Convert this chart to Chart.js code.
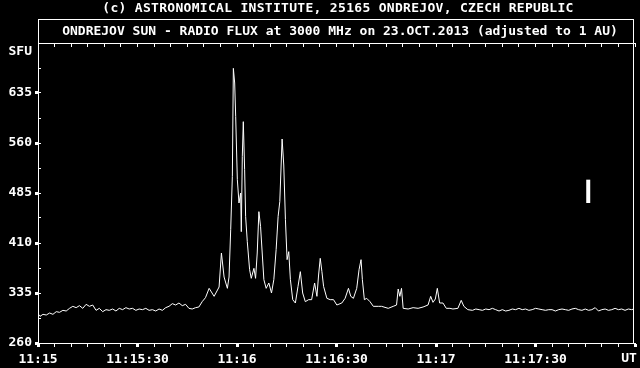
<!DOCTYPE html>
<html>
<head>
<meta charset="utf-8">
<script src="https://cdn.jsdelivr.net/npm/chart.js@4/dist/chart.umd.min.js"></script>
<style>
	html, body { margin: 0; padding: 0; background: #000; }
	canvas { display: block; }
</style>
</head>
<body>
<canvas id="flux" width="640" height="368"></canvas>
<script>
// ---------------- data ----------------
var titleText = '(c) ASTRONOMICAL INSTITUTE, 25165 ONDREJOV, CZECH REPUBLIC';
var subtitleText = 'ONDREJOV SUN - RADIO FLUX at 3000 MHz on 23.OCT.2013 (adjusted to 1 AU)';
var unitLabel = 'SFU';
var timeUnit = 'UT';

// x tick labels every 30 s, starting 11:15:00
var timeLabels = ['11:15', '11:15:30', '11:16', '11:16:30', '11:17', '11:17:30'];
var fluxMin = 260, fluxMax = 710, fluxStep = 37.5, fluxLabelStep = 75;

// seconds after 11:15:00 UT
var seconds = [
	0, 0.6, 1.5, 2.5, 3.5, 4.5, 5.5, 6.5, 7.5, 8.5, 9.5, 10.5, 11.5, 12.5, 13.5, 14.5, 15.5, 16.5, 17.5, 18.5,
	19.5, 20.5, 21.5, 22.5, 23.5, 24.5, 25.5, 26.5, 27.5, 28.5, 29.5, 30.5, 31.5, 32.5, 33.5, 34.5, 35.5, 36.5, 37.5, 38.5,
	39.5, 40.5, 41.5, 42.5, 43.5, 44.5, 45.5, 46.5, 47.5, 48.5, 49.5, 50.5,
	51.6, 53.1, 54.6, 55.3, 56.1, 57.1, 57.6, 58.1, 58.6, 58.9, 59.3, 59.6, 60.1, 60.6, 61.1, 61.3, 61.6, 61.9,
	62.3, 62.6, 63.1, 63.8, 64.3, 65.1, 65.6, 66.1, 66.6, 67.1, 67.6, 68.1, 68.8, 69.6, 70.4, 71.1, 71.8, 72.4,
	72.9, 73.6, 74.1, 74.6, 75.1, 75.6, 76.1, 76.8, 77.6, 78.4, 79.1, 79.8, 80.6, 81.6, 82.5, 83.4, 84.1, 84.6,
	85.1, 85.6, 86.1, 87.1, 88.1, 89.1, 90.1, 91.6, 92.6, 93.6, 94.3, 95.1, 96.1, 96.8, 97.4, 97.8, 98.4, 99.1,
	100.1, 101.1, 102.6, 103.6, 105.6, 107.1, 108.1, 108.6, 109.1, 109.6, 110.1, 111.6, 113.1, 114.6, 116.1, 117.6,
	118.4, 119.1, 119.8, 120.4, 121.1, 122.1, 123.1, 124.2, 125.1, 126.6, 127.6, 128.4, 129.6,
	131, 132, 133, 134, 135, 136, 137, 138, 139, 140, 141, 142, 143, 144, 145, 146, 147, 148, 149, 150,
	151, 152, 153, 154, 155, 156, 157, 158, 159, 160, 161, 162, 163, 164, 165, 166, 167, 168, 169, 170,
	171, 172, 173, 174, 175, 176, 177, 178, 179, 179.6
];

var flux = [
	304, 300, 303, 302, 305, 303, 307, 306, 309, 308, 312, 315, 313, 316, 312, 318, 315, 317, 309, 312,
	307, 310, 309, 311, 308, 312, 310, 313, 311, 312, 309, 311, 310, 312, 309, 310, 308, 311, 309, 313,
	315, 319, 317, 320, 316, 318, 312, 311, 313, 314, 322, 328,
	342, 330, 344, 395, 359, 342, 359, 430, 510, 672, 650, 600, 505, 470, 485, 427, 540, 592,
	520, 450, 412, 370, 357, 372, 357, 395, 457, 435, 395, 355, 342, 350, 335, 355, 400, 450,
	472, 566, 527, 445, 385, 397, 355, 325, 320, 345, 367, 335, 322, 325, 325, 350, 330, 362,
	387, 367, 345, 327, 325, 325, 317, 320, 327, 342, 330, 327, 342, 370, 385, 355, 325, 327,
	322, 315, 315, 315, 312, 315, 317, 341, 330, 342, 312, 311, 313, 312, 314, 317,
	330, 321, 326, 342, 320, 320, 312, 312, 311, 312, 324, 315, 310,
	309, 311, 310, 309, 311, 310, 312, 310, 308, 310, 308, 309, 311, 310, 312, 310, 311, 309, 310, 312,
	311, 310, 309, 310, 310, 308, 310, 311, 310, 309, 311, 312, 310, 309, 311, 309, 310, 313, 308, 310,
	311, 309, 310, 312, 310, 311, 309, 311, 310, 311
];

// calibration bar at the right
var barTime = 165.9;
var barFlux = [470, 505];

// ---------------- chart ----------------
var monoFont = { family: '"DejaVu Sans Mono", "Liberation Mono", monospace', size: 13, weight: 'bold' };

var frame = {
	id: 'frame',
	beforeDraw: function(chart){
		var ctx = chart.ctx;
		ctx.save();
		ctx.fillStyle = '#000';
		ctx.fillRect(0, 0, chart.width, chart.height);
		ctx.restore();
	},
	afterDraw: function(chart){
		var ctx = chart.ctx, a = chart.chartArea;
		ctx.save();
		ctx.strokeStyle = '#fff';
		ctx.lineWidth = 1;
		// subtitle box and right edge
		ctx.strokeRect(a.left + 0.5, 19.5, a.right - a.left - 2, a.top - 19);
		ctx.beginPath();
		ctx.moveTo(a.right - 1.5, a.top);
		ctx.lineTo(a.right - 1.5, a.bottom);
		ctx.stroke();

		ctx.fillStyle = '#fff';
		ctx.font = 'bold 13px "DejaVu Sans Mono", monospace';
		ctx.textBaseline = 'middle';
		ctx.textAlign = 'center';
		ctx.letterSpacing = '0.3px';
		ctx.fillText(titleText, 338, 9);
		ctx.letterSpacing = '0px';
		ctx.fillText(subtitleText, 340, 32);
		ctx.textAlign = 'right';
		ctx.fillText(unitLabel, 32, 52);
		ctx.textAlign = 'center';
		ctx.fillText(timeUnit, 629, 359);
		ctx.restore();
	}
};

var chart = new Chart(document.getElementById('flux'), {
	type: 'line',
	data: {
		datasets: [{
			data: seconds.map(function(t, i){ return { x: t, y: flux[i] }; }),
			borderColor: '#fff',
			borderWidth: 1,
			pointRadius: 0,
			tension: 0
		}, {
			data: [{ x: barTime, y: barFlux[0] }, { x: barTime, y: barFlux[1] }],
			borderColor: '#fff',
			borderWidth: 4,
			borderCapStyle: 'butt',
			pointRadius: 0
		}]
	},
	options: {
		responsive: false,
		animation: false,
		layout: { padding: { top: 43, right: 2, left: 0, bottom: 0 } },
		plugins: { legend: { display: false }, tooltip: { enabled: false }, title: { display: false } },
		scales: {
			x: {
				type: 'linear', position: 'bottom', min: 0, max: 180,
				afterFit: function(s){ s.height = 25; },
				border: { color: '#fff', width: 1 },
				grid: {
					drawOnChartArea: false, tickLength: 4, tickColor: '#fff',
					tickWidth: function(c){ return c.tick && c.tick.value % 30 === 0 ? 3 : 1; }
				},
				ticks: {
					stepSize: 5, includeBounds: false, autoSkip: false, maxRotation: 0,
					color: '#fff', font: monoFont, padding: 5,
					callback: function(v){
						if (v % 30 !== 0) return '';
						return timeLabels[v / 30] || '';
					}
				}
			},
			xTop: {
				type: 'linear', position: 'top', min: 0, max: 180,
				afterFit: function(s){ s.height = 0; },
				border: { color: '#fff', width: 1 },
				grid: { drawOnChartArea: false, tickLength: -4, tickColor: '#fff', tickWidth: 1 },
				ticks: { display: false, stepSize: 5, includeBounds: false }
			},
			y: {
				type: 'linear', position: 'left', min: fluxMin, max: fluxMax, weight: 1,
				afterFit: function(s){ s.width = 38; },
				border: { color: '#fff', width: 1 },
				grid: {
					drawOnChartArea: false, tickLength: 3, tickWidth: 3,
					tickColor: function(c){
						var v = c.tick ? c.tick.value : 0;
						return (v - fluxMin) % fluxLabelStep === 0 && v < fluxMax ? '#fff' : 'rgba(0,0,0,0)';
					}
				},
				ticks: {
					stepSize: fluxStep, includeBounds: false, autoSkip: false,
					color: '#fff', font: monoFont, padding: 3,
					callback: function(v){
						return (v - fluxMin) % fluxLabelStep === 0 && v < fluxMax ? String(v) : '';
					}
				}
			},
			yIn: {
				type: 'linear', position: 'left', min: fluxMin, max: fluxMax, weight: 0,
				afterFit: function(s){ s.width = 0; },
				border: { display: false },
				grid: { drawOnChartArea: false, tickLength: -3, tickColor: '#fff', tickWidth: 1 },
				ticks: { display: false, stepSize: fluxStep, includeBounds: false }
			}
		}
	},
	plugins: [frame]
});
</script>
</body>
</html>
